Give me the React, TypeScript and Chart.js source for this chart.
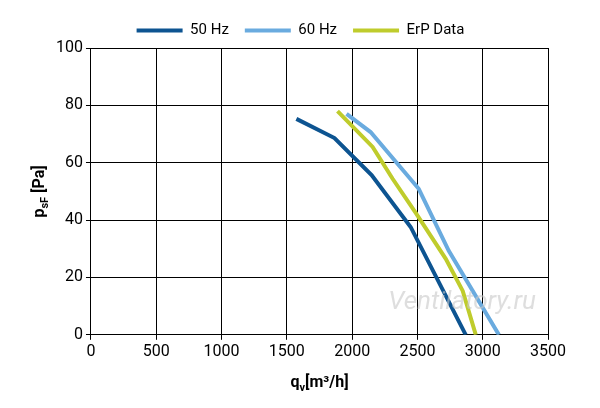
import React, { useEffect, useRef } from "react";
import { Chart, registerables } from "chart.js";
Chart.register(...registerables);

const hz50X = [1573, 1865, 2149, 2448, 2870];
const hz50Y = [75.3, 68.6, 55.7, 37.6, 0];
const hz60X = [1957, 2141, 2510, 2740, 3124];
const hz60Y = [77, 70.7, 50.9, 29.3, 0];
const erpX = [1888, 2157, 2310, 2487, 2717, 2847, 2947];
const erpY = [78, 65.5, 54.4, 42.5, 26.5, 15.3, 0];

const FONT = "Roboto, sans-serif";

const pts = (xs: number[], ys: number[]) => xs.map((x, i) => ({ x, y: ys[i] }));

const titles = {
  id: "titles",
  afterDraw(c: any) {
    const ctx = c.ctx;
    const a = c.chartArea;
    ctx.save();
    ctx.fillStyle = "rgba(200,200,200,0.6)";
    ctx.font = `italic 26px ${FONT}`;
    ctx.textAlign = "right";
    ctx.textBaseline = "middle";
    ctx.fillText("Ventilatory.ru", a.right - 12, a.bottom - 32);
    ctx.fillStyle = "#000";
    const draw = (parts: [string, boolean][], x: number, y: number) => {
      let w = 0;
      for (const [t, sub] of parts) { ctx.font = `bold ${sub ? 11 : 16}px ${FONT}`; w += ctx.measureText(t).width; }
      let cx = x - w / 2;
      ctx.textAlign = "left";
      for (const [t, sub] of parts) {
        ctx.font = `bold ${sub ? 11 : 16}px ${FONT}`;
        ctx.fillText(t, cx, y + (sub ? 5 : 0));
        cx += ctx.measureText(t).width;
      }
    };
    draw([["q", false], ["v", true], ["[m³/h]", false]], (a.left + a.right) / 2, 383);
    ctx.translate(40, (a.top + a.bottom) / 2);
    ctx.rotate(-Math.PI / 2);
    draw([["p", false], ["sF", true], [" [Pa]", false]], 0, 0);
    ctx.restore();
  },
};

export default function App() {
  const ref = useRef<HTMLCanvasElement>(null);
  useEffect(() => {
    const mk = (label: string, xs: number[], ys: number[], color: string) => ({
      label, data: pts(xs, ys), borderColor: color, backgroundColor: color,
      borderWidth: 4, pointRadius: 0, tension: 0, fill: false,
    });
    const chart = new Chart(ref.current!, {
      type: "line",
      data: {
        datasets: [
          mk("50 Hz", hz50X, hz50Y, "#0d5491"),
          mk("60 Hz", hz60X, hz60Y, "#6aabdf"),
          mk("ErP Data", erpX, erpY, "#bfcc2c"),
        ],
      },
      plugins: [titles],
      options: {
        animation: false,
        responsive: false,
        layout: { padding: { left: 53, right: 52, top: 7, bottom: 43 } },
        plugins: {
          tooltip: { enabled: false },
          legend: {
            position: "top",
            labels: {
              boxWidth: 46, boxHeight: 4, color: "#000",
              font: { family: FONT, size: 15 }, padding: 16,
              generateLabels: (c: any) => c.data.datasets.map((d: any, i: number) => ({
                text: d.label, fillStyle: d.borderColor, strokeStyle: d.borderColor, lineWidth: 0, datasetIndex: i,
              })),
            },
          },
        },
        scales: {
          x: {
            type: "linear", min: 0, max: 3500,
            ticks: { stepSize: 500, color: "#000", font: { family: FONT, size: 16 }, callback: (v: any) => String(v) },
            grid: { color: "#000", lineWidth: 1, tickLength: 5 },
            border: { color: "#000" },
          },
          y: {
            min: 0, max: 100,
            ticks: { stepSize: 20, color: "#000", font: { family: FONT, size: 16 }, callback: (v: any) => String(v) },
            grid: { color: "#000", lineWidth: 1, tickLength: 5 },
            border: { color: "#000" },
          },
        },
      },
    } as any);
    return () => chart.destroy();
  }, []);
  return (
    <div style={{ position: "absolute", left: 0, top: 0, width: 600, height: 408, background: "#fff" }}>
      <canvas ref={ref} width={600} height={408} />
    </div>
  );
}
